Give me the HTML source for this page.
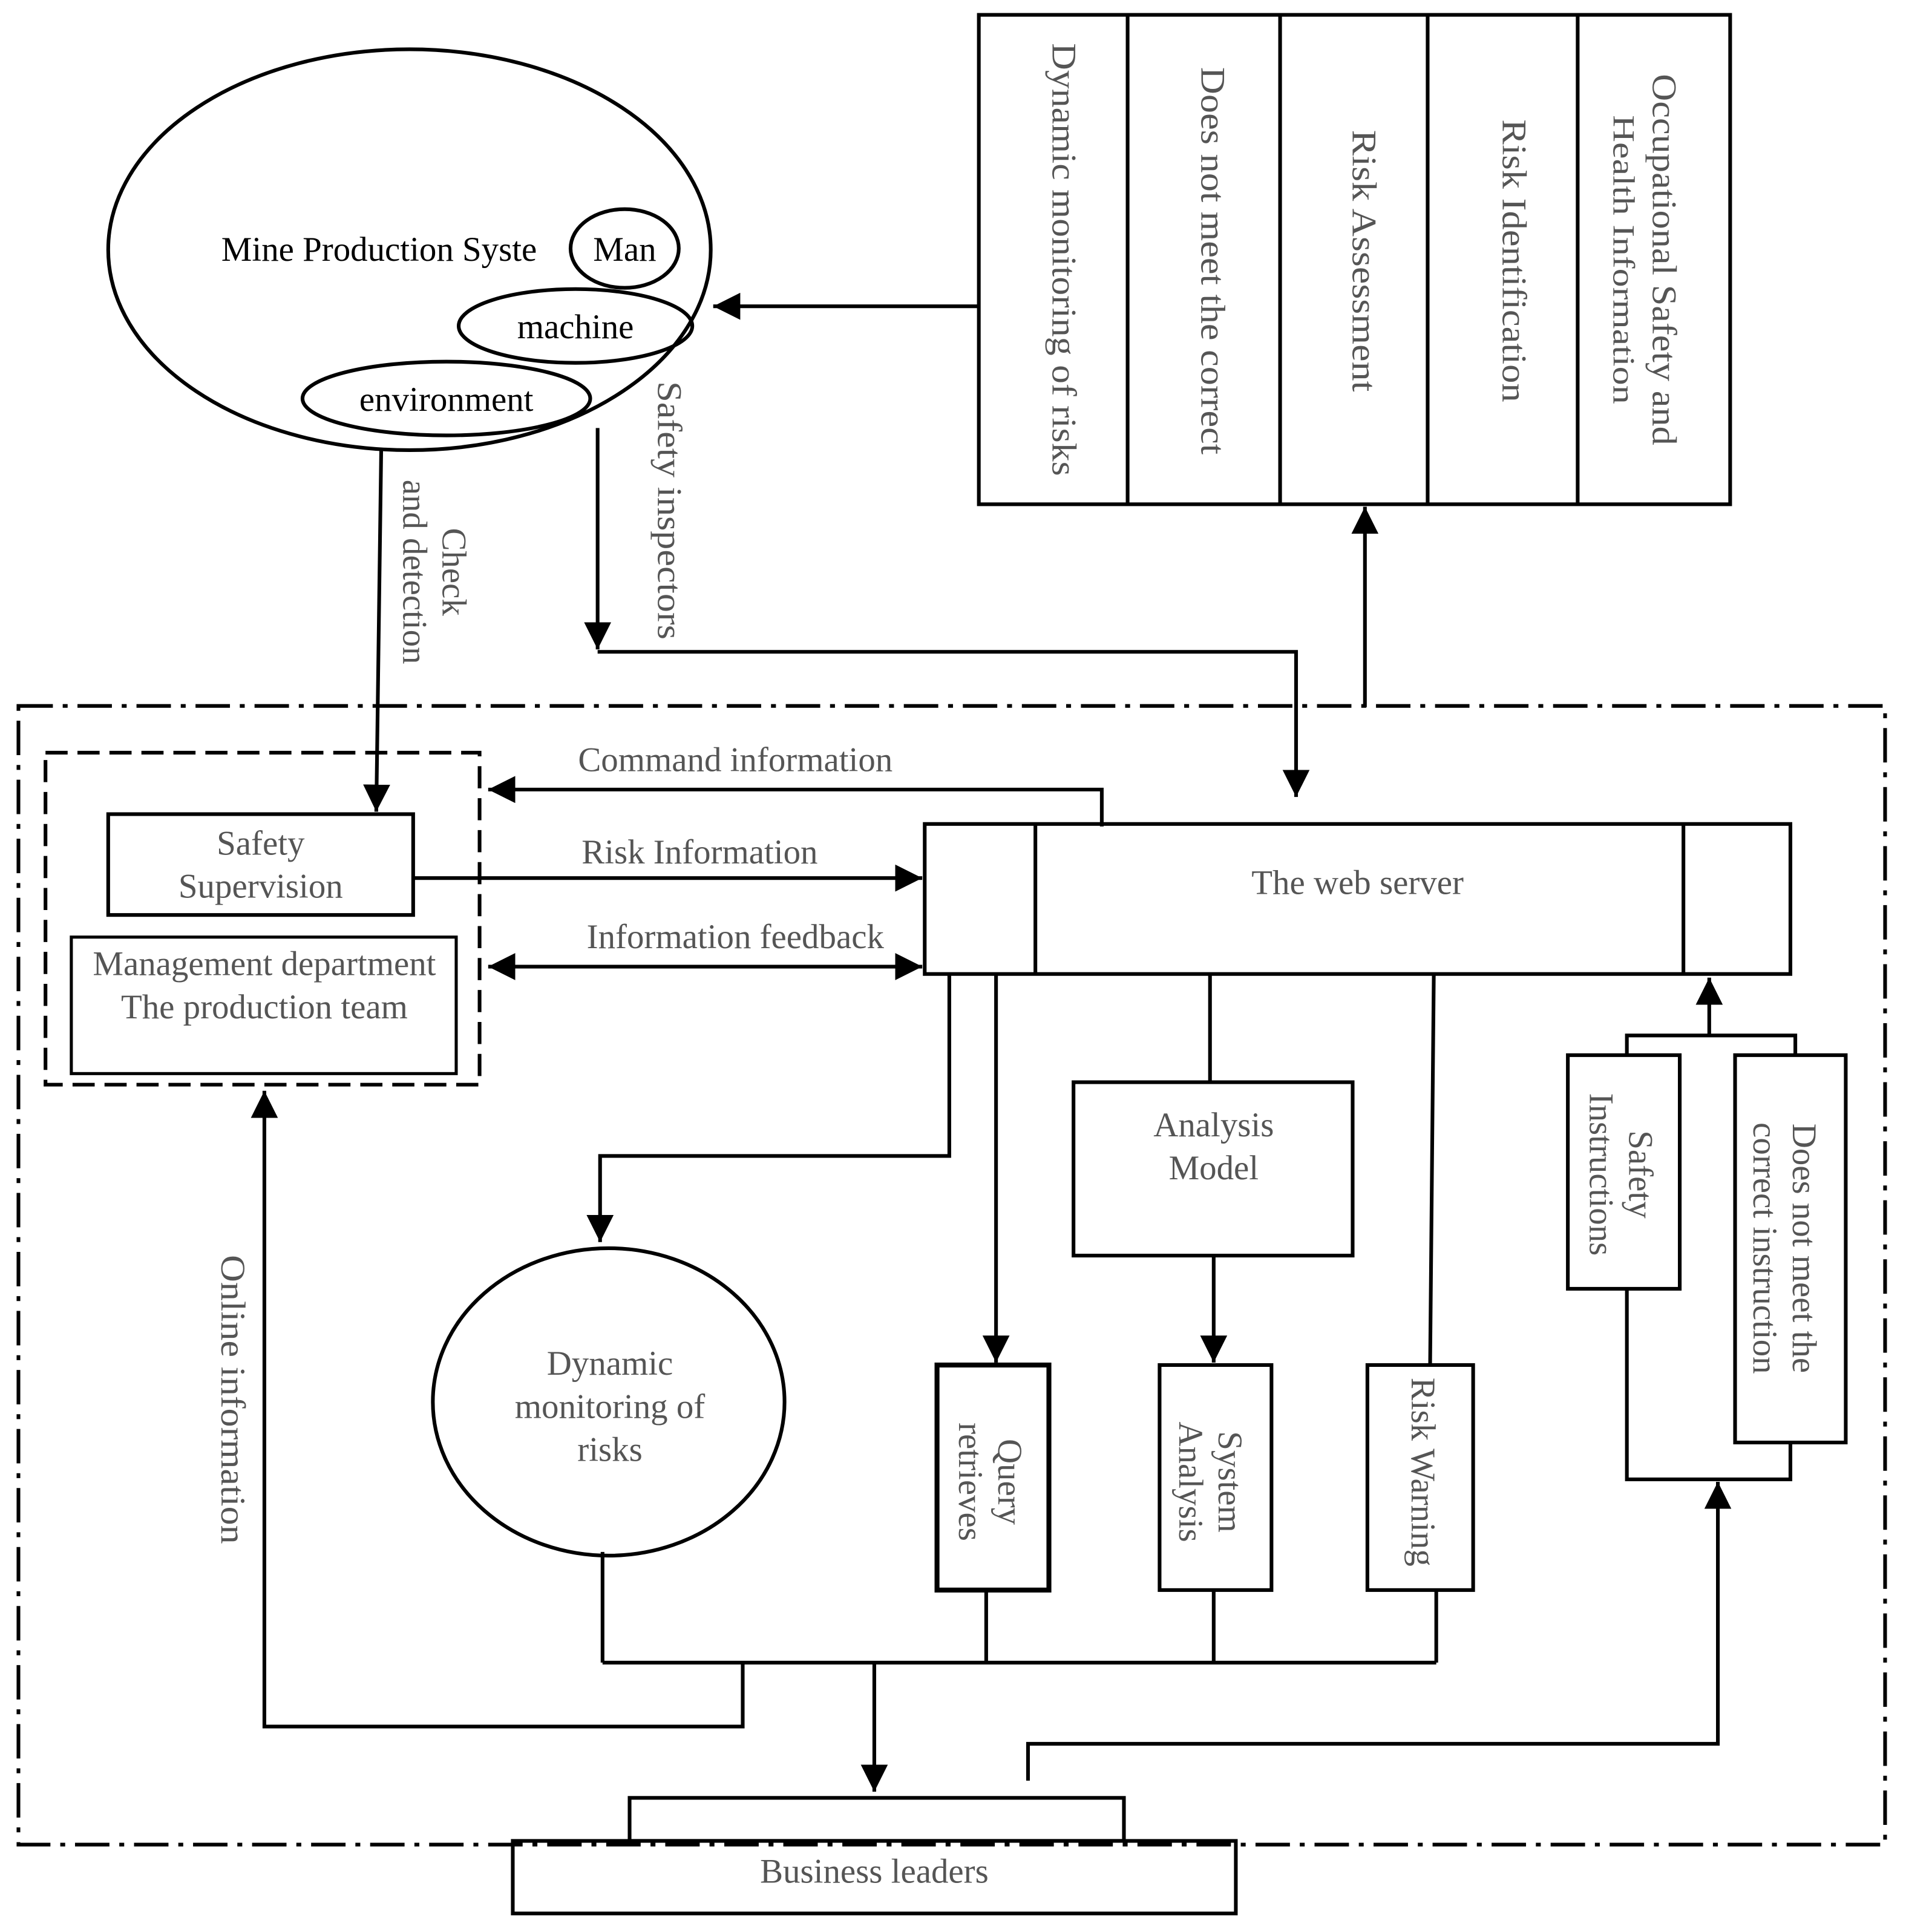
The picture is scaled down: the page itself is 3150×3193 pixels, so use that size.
<!DOCTYPE html>
<html><head><meta charset="utf-8"><style>html,body{margin:0;padding:0;background:#fff}svg{display:block}</style></head>
<body>
<svg width="3150" height="3193" viewBox="0 0 1550 1571" xmlns="http://www.w3.org/2000/svg" font-family="Liberation Serif, serif" font-size="28">
<defs>
<marker id="b" viewBox="0 0 20 20" refX="20" refY="10" markerWidth="22" markerHeight="22" orient="auto-start-reverse" markerUnits="userSpaceOnUse"><path d="M0,0 L20,10 L0,20 z" fill="#000"/></marker>
</defs>
<g fill="none" stroke="#000" stroke-width="3">
<ellipse cx="333" cy="203" rx="245" ry="163"/>
<ellipse cx="468" cy="265" rx="95" ry="30"/>
<ellipse cx="363" cy="324" rx="117" ry="30"/>
<line x1="796" y1="249" x2="580" y2="249" marker-end="url(#b)"/>
<rect x="796" y="12" width="611" height="398"/>
<line x1="917" y1="12" x2="917" y2="410"/><line x1="1041" y1="12" x2="1041" y2="410"/><line x1="1161" y1="12" x2="1161" y2="410"/><line x1="1283" y1="12" x2="1283" y2="410"/>
<line x1="1110" y1="575" x2="1110" y2="412" marker-end="url(#b)"/>
<rect x="15" y="574" width="1518" height="926" stroke-dasharray="28,8,4,8"/>
<rect x="37" y="612" width="353" height="270" stroke-dasharray="18,8"/>
<rect x="88" y="662" width="248" height="82"/>
<rect x="58" y="762" width="313" height="111" stroke-width="2.5"/>
<rect x="752" y="670" width="704" height="122"/>
<line x1="842" y1="670" x2="842" y2="792"/><line x1="1369" y1="670" x2="1369" y2="792"/>
<line x1="310" y1="366" x2="306" y2="660" marker-end="url(#b)"/>
<line x1="486" y1="348" x2="486" y2="528" marker-end="url(#b)"/>
<polyline points="486,530 1054,530 1054,648" marker-end="url(#b)"/>
<polyline points="896,672 896,642 397,642" marker-end="url(#b)"/>
<line x1="336" y1="714" x2="750" y2="714" marker-end="url(#b)"/>
<line x1="397" y1="786" x2="750" y2="786" marker-start="url(#b)" marker-end="url(#b)"/>
<polyline points="772,792 772,940 488,940 488,1010" marker-end="url(#b)"/>
<ellipse cx="495" cy="1140" rx="143" ry="125"/>
<line x1="810" y1="792" x2="810" y2="1108" marker-end="url(#b)"/>
<rect x="762" y="1110" width="91" height="183" stroke-width="4"/>
<line x1="984" y1="792" x2="984" y2="880"/>
<rect x="873" y="880" width="227" height="141"/>
<line x1="987" y1="1021" x2="987" y2="1108" marker-end="url(#b)"/>
<rect x="943" y="1110" width="91" height="183"/>
<line x1="1166" y1="792" x2="1163" y2="1110"/>
<rect x="1112" y="1110" width="86" height="183"/>
<rect x="1275" y="858" width="91" height="190"/>
<rect x="1411" y="858" width="90" height="315"/>
<polyline points="1323,858 1323,842 1460,842 1460,858"/>
<line x1="1390" y1="842" x2="1390" y2="795" marker-end="url(#b)"/>
<polyline points="1323,1048 1323,1203 1456,1203 1456,1173"/>
<polyline points="836,1448 836,1418 1397,1418 1397,1205" marker-end="url(#b)"/>
<polyline points="490,1262 490,1352"/>
<line x1="490" y1="1352" x2="1168" y2="1352"/>
<line x1="802" y1="1293" x2="802" y2="1352"/><line x1="987" y1="1293" x2="987" y2="1352"/><line x1="1168" y1="1293" x2="1168" y2="1352"/>
<polyline points="604,1352 604,1404 215,1404 215,887" marker-end="url(#b)"/>
<line x1="711" y1="1352" x2="711" y2="1457" marker-end="url(#b)"/>
<rect x="512" y="1462" width="402" height="35"/>
<rect x="417" y="1497" width="588" height="59"/>
</g>
<g fill="#000">
<text x="180" y="212">Mine Production Syste</text>
<ellipse cx="508" cy="202" rx="44" ry="32" fill="#fff" stroke="#000" stroke-width="3"/>
<text x="508" y="212" text-anchor="middle">Man</text>
<text x="468" y="275" text-anchor="middle">machine</text>
<text x="363" y="334" text-anchor="middle">environment</text>
</g>
<g fill="#555" text-anchor="middle">
<text x="598" y="627">Command information</text>
<text x="569" y="702">Risk Information</text>
<text x="598" y="771">Information feedback</text>
<text x="212" y="695">Safety</text><text x="212" y="730">Supervision</text>
<text x="215" y="793">Management department</text><text x="215" y="828">The production team</text>
<text x="1104" y="727">The web server</text>
<text x="987" y="924">Analysis</text><text x="987" y="959">Model</text>
<text x="496" y="1118">Dynamic</text><text x="496" y="1153">monitoring of</text><text x="496" y="1188">risks</text>
<text x="711" y="1531">Business leaders</text>
<g transform="translate(866,211) rotate(90)"><text y="10" textLength="352" lengthAdjust="spacingAndGlyphs">Dynamic monitoring of risks</text></g>
<g transform="translate(987,212) rotate(90)"><text y="10" textLength="315" lengthAdjust="spacingAndGlyphs">Does not meet the correct</text></g>
<g transform="translate(1110,212) rotate(90)"><text y="10" textLength="213" lengthAdjust="spacingAndGlyphs">Risk Assessment</text></g>
<g transform="translate(1232,212) rotate(90)"><text y="10" textLength="230" lengthAdjust="spacingAndGlyphs">Risk Identification</text></g>
<g transform="translate(1339,211) rotate(90)"><text y="-5" textLength="302" lengthAdjust="spacingAndGlyphs">Occupational Safety and</text><text y="27" font-size="25" textLength="235" lengthAdjust="spacingAndGlyphs">Health Information</text></g>
<g transform="translate(545,415) rotate(90)"><text y="10" textLength="210" lengthAdjust="spacingAndGlyphs">Safety inspectors</text></g>
<g transform="translate(355,465) rotate(90)"><text y="-5">Check</text><text y="27">and detection</text></g>
<g transform="translate(190,1138) rotate(90)"><text y="10" textLength="235" lengthAdjust="spacingAndGlyphs">Online information</text></g>
<g transform="translate(807,1205) rotate(90)"><text y="-5">Query</text><text y="27">retrieves</text></g>
<g transform="translate(986,1205) rotate(90)"><text y="-5">System</text><text y="27">Analysis</text></g>
<g transform="translate(1158,1197) rotate(90)"><text y="10">Risk Warning</text></g>
<g transform="translate(1320,955) rotate(90)"><text y="-5">Safety</text><text y="27">Instructions</text></g>
<g transform="translate(1453,1015) rotate(90)"><text y="-5">Does not meet the</text><text y="27">correct instruction</text></g>
</g>
</svg>
</body></html>
